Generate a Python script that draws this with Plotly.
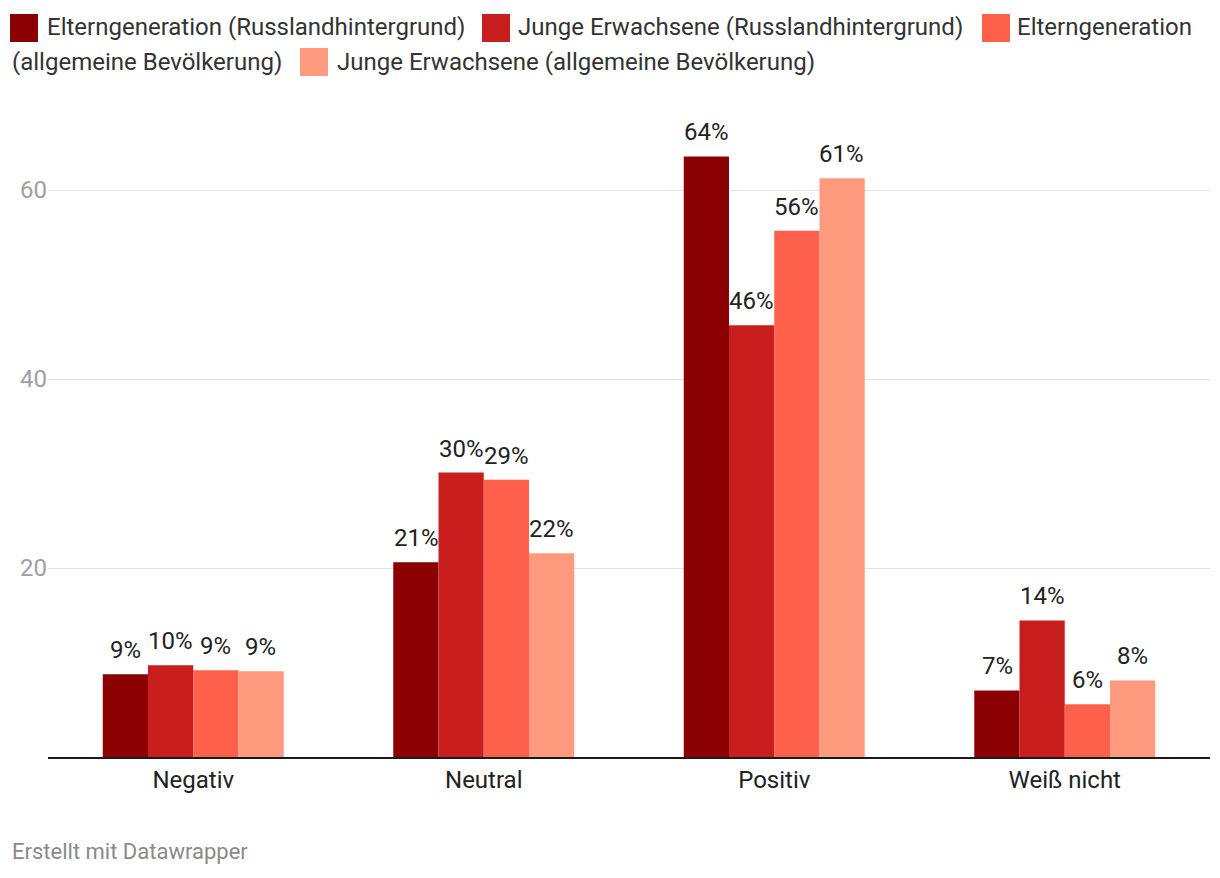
import plotly.graph_objects as go

categories = ["Negativ", "Neutral", "Positiv", "Weiß nicht"]
series_names = [
    "Elterngeneration (Russlandhintergrund)",
    "Junge Erwachsene (Russlandhintergrund)",
    "Elterngeneration (allgemeine Bevölkerung)",
    "Junge Erwachsene (allgemeine Bevölkerung)",
]
eltern_russ = [8.75, 20.6, 63.55, 7.05]
junge_russ = [9.7, 30.1, 45.7, 14.45]
eltern_allg = [9.17, 29.35, 55.7, 5.57]
junge_allg = [9.07, 21.55, 61.25, 8.1]
series_values = [eltern_russ, junge_russ, eltern_allg, junge_allg]
colors = ["#8b0000", "#c81e1e", "#fe604c", "#fe9a7e"]
y_ticks = [20, 40, 60]

W, H = 1220, 878
L, R, T, B = 48, 10, 110, 121
PW = W - L - R
PH = H - T - B
YMAX = PH / 9.45

def px_x(p):
    return (p - L) / PW

def px_y(p):
    return (H - B - p) / PH

FONT = "Roboto"
TXT = "#222222"
FS = 24

fig = go.Figure()
for name, vals, col in zip(series_names, series_values, colors):
    fig.add_trace(go.Bar(
        name=name, x=categories, y=vals, marker=dict(color=col, line=dict(width=0)),
        showlegend=False, hoverinfo="x+y",
    ))

# value labels above bars
offsets = [-67.5, -22.5, 22.5, 67.5]
annotations = []
for vals, off in zip(series_values, offsets):
    for c, v in zip(categories, vals):
        annotations.append(dict(
            x=c, y=v, xref="x", yref="y", text=f"{int(v + 0.5)}%", showarrow=False,
            xshift=off, yshift=8, yanchor="bottom", xanchor="center",
            font=dict(family=FONT, size=FS, color=TXT),
        ))

# custom legend (wrapping flow text)
leg_font = dict(family=FONT, size=FS, color="#333333")
shapes = []
sq = [(10, 14), (482, 14), (982, 14), (300, 48)]
for (sx, sy), col in zip(sq, colors):
    shapes.append(dict(type="rect", xref="paper", yref="paper",
                       x0=px_x(sx), x1=px_x(sx + 28), y0=px_y(sy + 28), y1=px_y(sy),
                       fillcolor=col, line=dict(width=0)))
leg_texts = [
    (45, 27, "Elterngeneration (Russlandhintergrund)"),
    (516, 27, "Junge Erwachsene (Russlandhintergrund)"),
    (1015, 27, "Elterngeneration"),
    (10, 62, "(allgemeine Bevölkerung)"),
    (335, 62, "Junge Erwachsene (allgemeine Bevölkerung)"),
]
for tx, ty, t in leg_texts:
    annotations.append(dict(x=px_x(tx), y=px_y(ty), xref="paper", yref="paper",
                            text=t, showarrow=False, xanchor="left", yanchor="middle",
                            font=leg_font))

annotations.append(dict(x=px_x(10), y=px_y(852), xref="paper", yref="paper",
                        text="Erstellt mit Datawrapper", showarrow=False,
                        xanchor="left", yanchor="middle",
                        font=dict(family=FONT, size=22, color="#8a8a8a")))

fig.update_layout(
    width=W, height=H,
    margin=dict(l=L, r=R, t=T, b=B, pad=0),
    paper_bgcolor="white", plot_bgcolor="white",
    barmode="group", bargap=0.377, bargroupgap=0,
    font=dict(family=FONT, color=TXT),
    annotations=annotations, shapes=shapes,
    xaxis=dict(showline=True, linecolor="#1a1a1a", linewidth=2, ticks="",
               tickfont=dict(family=FONT, size=FS, color=TXT), showgrid=False,
               fixedrange=True),
    yaxis=dict(range=[0, YMAX], tickvals=y_ticks, showgrid=True, gridcolor="#e3e3e3",
               gridwidth=1, zeroline=False, showline=False, ticks="",
               tickfont=dict(family=FONT, size=FS, color="#a0a0a0"), fixedrange=True),
)

fig.write_html("out.html", config={"displayModeBar": False},
               post_script="document.body.style.margin='0';")
